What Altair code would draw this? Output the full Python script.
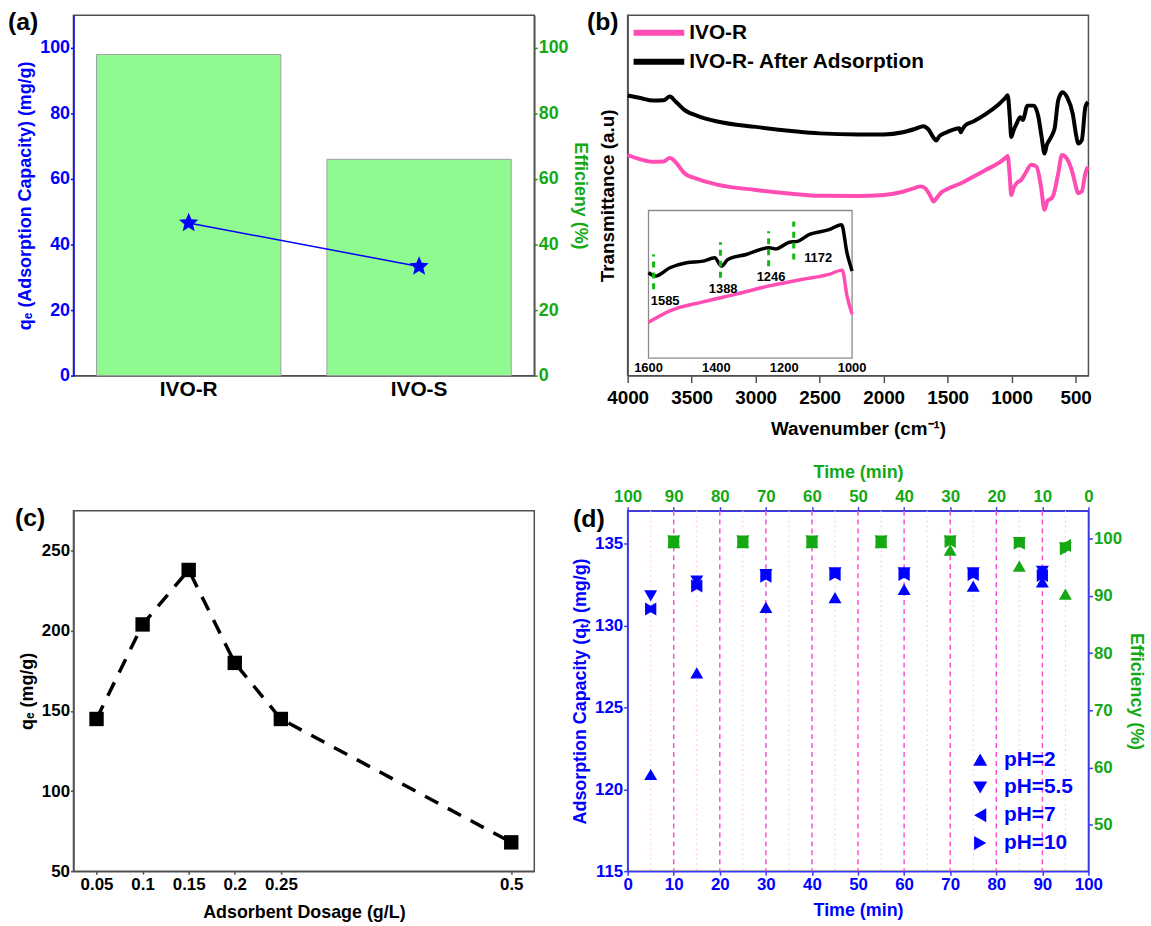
import altair as alt
import pandas as pd

FONT = "Liberation Sans"
BLUE = "#0000FF"
DBLUE = "#3838FF"
GREEN = "#14A814"
PINK = "#FF4DB3"
FRAME = "#505050"
STAR = ("M0,-1L0.2645,-0.3641L0.9511,-0.309L0.428,0.1391L0.5878,0.809L0,0.45"
        "L-0.5878,0.809L-0.428,0.1391L-0.9511,-0.309L-0.2645,-0.3641Z")

# ---------------- (a) ----------------
samples = ["IVO-R", "IVO-S"]
eff_a = [98.0, 66.0]
qe_a = [46.6, 33.3]

# ---------------- (b) ----------------
series_b = ["IVO-R", "IVO-R- After Adsorption"]
wn_after = [4000, 3900, 3800, 3720, 3670, 3630, 3560, 3450, 3300, 3000, 2700, 2500, 2200, 2000,
            1850, 1750, 1690, 1650, 1610, 1590, 1565, 1520, 1450, 1410, 1398, 1385, 1360, 1300,
            1200, 1100, 1045, 1031, 1015, 1003, 985, 961, 933, 913, 876, 828, 791, 765, 743, 725,
            706, 680, 664, 636, 602, 565, 523, 495, 481, 452, 424, 404]
t_after = [77.7, 77.0, 76.3, 76.4, 77.4, 76.2, 73.8, 72.0, 70.5, 69.0, 67.8, 67.2, 66.9, 66.9,
           67.5, 68.5, 69.2, 68.3, 66.0, 65.2, 66.4, 67.3, 68.3, 68.6, 67.5, 68.3, 69.5, 70.5,
           72.6, 75.3, 77.2, 77.8, 72.0, 66.2, 68.0, 69.9, 71.7, 70.9, 74.9, 74.9, 71.8, 66.0, 61.6, 64.0,
           65.3, 67.0, 68.6, 76.4, 78.6, 77.1, 72.7, 66.5, 64.4, 65.3, 74.5, 75.9]
wn_r = [4000, 3900, 3800, 3720, 3670, 3630, 3560, 3450, 3300, 3000, 2700, 2500, 2200, 2000,
        1850, 1760, 1710, 1670, 1630, 1610, 1585, 1550, 1500, 1400, 1300, 1200, 1100, 1045, 1031,
        1015, 1003, 985, 961, 925, 891, 848, 806, 771, 743, 720, 706, 678, 636, 607, 565, 523,
        495, 481, 452, 424, 404]
t_r = [61.2, 60.0, 59.3, 59.4, 60.4, 59.4, 56.3, 54.5, 53.0, 51.5, 50.4, 49.9, 49.8, 50.1,
       51.0, 52.0, 52.5, 51.8, 49.5, 48.3, 49.3, 50.8, 51.8, 53.3, 55.2, 57.1, 59.0, 60.5, 60.9,
       55.5, 50.1, 52.0, 53.4, 54.3, 56.2, 58.5, 58.0, 52.5, 46.0, 48.5, 48.8, 49.7, 56.1, 61.2, 60.0, 56.1,
       52.0, 50.6, 51.1, 56.1, 57.9]
inset_wn_after = [1600, 1580, 1537, 1488, 1439, 1405, 1385, 1366, 1312, 1244, 1225, 1185, 1161,
                  1127, 1068, 1031, 1015, 1000]
inset_t_after = [57.9, 55.6, 61.2, 64.6, 65.7, 68.0, 62.3, 66.8, 70.2, 74.7, 74.0, 78.5, 79.1,
                 83.6, 87.0, 90.4, 71.3, 59.0]
inset_wn_r = [1600, 1537, 1439, 1342, 1244, 1146, 1068, 1029, 1015, 1000]
inset_t_r = [24.2, 32.0, 38.1, 43.3, 48.9, 53.4, 56.7, 59.6, 42.1, 29.8]
inset_ticks = [1600, 1400, 1200, 1000]
peak_wn = [1585, 1388, 1246, 1172]
peak_lo = [46.6, 54.5, 62.3, 66.8]
peak_hi = [70.2, 78.5, 85.9, 92.6]
peak_text = ["1585", "1388", "1246", "1172"]
peak_text_wn = [1551, 1380, 1239, 1100]
peak_text_t = [38.8, 46.6, 54.9, 68.0]
# inset box spans 1600..1000 cm-1 and 0..100 (a.u.); widened domains place it inside panel (b)
inset_x_domain = [303.4, 1661.5]
inset_y_domain = [-11.9, 232.4]

# ---------------- (c) ----------------
dose = [0.05, 0.1, 0.15, 0.2, 0.25, 0.5]
qe_c = [145, 204, 238, 180, 145, 68]

# ---------------- (d) ----------------
times = [5, 15, 30, 45, 60, 75, 90]
ph_labels = ["pH=2", "pH=5.5", "pH=7", "pH=10"]
ph_shapes = ["triangle-up", "triangle-down", "triangle-left", "triangle-right"]
qt_ph2 = [120.9, 127.1, 131.1, 131.7, 132.2, 132.4, 132.65]
qt_ph55 = [131.8, 132.7, 133.1, 133.2, 133.2, 133.2, 133.3]
qt_ph7 = [131.0, 132.4, 133.0, 133.1, 133.1, 133.1, 133.05]
qt_ph10 = [131.0, 132.4, 133.0, 133.1, 133.1, 133.1, 133.05]
eff_times = [90, 75, 60, 45, 30, 15, 5]
eff_ph2 = [99.3, 99.3, 99.3, 99.3, 98.0, 95.2, 90.3]
eff_ph55 = [99.6, 99.6, 99.6, 99.6, 99.6, 99.3, 98.4]
eff_ph7 = [99.5, 99.5, 99.5, 99.5, 99.5, 99.2, 98.8]
eff_ph10 = [99.5, 99.5, 99.5, 99.5, 99.5, 99.2, 98.2]
major_grid = [10, 20, 30, 40, 50, 60, 70, 80, 90]
minor_grid = [5, 15, 25, 35, 45, 55, 65, 75, 85, 95]

W, H = 464, 363


def ptitle(txt, dx, offset=-32):
    return alt.TitleParams(text=txt, anchor="start", dx=dx, offset=offset, fontSize=25, font=FONT,
                           fontWeight="bold", color="black", baseline="middle", frame="group")


def legend_entry(symbol_chart, label, color, lx, ly, size=21):
    txt = alt.Chart(pd.DataFrame({"lab": [label]})).mark_text(
        align="left", baseline="middle", fontSize=size, fontWeight="bold", font=FONT, color=color
    ).encode(text="lab:N", x=alt.value(lx), y=alt.value(ly))
    return [symbol_chart, txt]


# ================= panel (a) =================
df_a = pd.DataFrame({"sample": samples, "eff": eff_a, "qe": qe_a})
xa = alt.X("sample:N", sort=samples, scale=alt.Scale(paddingInner=0.2, paddingOuter=0.1),
           axis=alt.Axis(title=None, labelFontSize=21, labelColor="black", ticks=False,
                         labelPadding=3, domainColor=FRAME, labelAngle=0))
bars = alt.Chart(df_a).mark_bar(color="#8FFA8F", stroke="#a0a0a0", strokeWidth=1).encode(
    x=xa,
    y=alt.Y("eff:Q", scale=alt.Scale(domain=[0, 110], nice=False),
            axis=alt.Axis(orient="right", values=[0, 20, 40, 60, 80, 100], title="Efficieny (%)",
                          labelColor=GREEN, titleColor=GREEN, tickColor=GREEN, domainColor=FRAME,
                          labelFontSize=18, titleFontSize=18, tickSize=3, labelPadding=1, titlePadding=2)))
yq = alt.Y("qe:Q", scale=alt.Scale(domain=[0, 110], nice=False),
           axis=alt.Axis(orient="left", values=[0, 20, 40, 60, 80, 100],
                         title="qₑ (Adsorption Capacity) (mg/g)",
                         labelColor=BLUE, titleColor=BLUE, tickColor=BLUE, domainColor=BLUE,
                         labelFontSize=18, titleFontSize=18, tickSize=3, labelPadding=1, titlePadding=5))
yq_noaxis = alt.Y("qe:Q", scale=alt.Scale(domain=[0, 110], nice=False), axis=None)
qline = alt.Chart(df_a).mark_line(color=BLUE, strokeWidth=1.5).encode(x=xa, y=yq)
stars = alt.Chart(df_a).mark_point(shape=STAR, filled=True, size=420, color=BLUE, opacity=1).encode(
    x=xa, y=yq_noaxis)
panel_a = alt.layer(bars, qline, stars).resolve_scale(y="independent").properties(
    width=W, height=H, title=ptitle("(a)", -66))

# ================= panel (b) =================
df_b = pd.concat([
    pd.DataFrame({"wn": wn_r, "T": t_r, "series": series_b[0]}),
    pd.DataFrame({"wn": wn_after, "T": t_after, "series": series_b[1]}),
])
xb = alt.X("wn:Q", scale=alt.Scale(domain=[400, 4000], reverse=True, nice=False),
           axis=alt.Axis(values=[4000, 3500, 3000, 2500, 2000, 1500, 1000, 500], format="d",
                         title="Wavenumber (cm⁻¹)", labelFontSize=19, titleFontSize=19,
                         labelColor="black", titleColor="black", tickSize=7, labelPadding=6,
                         titlePadding=12, domainColor=FRAME, tickColor=FRAME))
yb = alt.Y("T:Q", scale=alt.Scale(domain=[0, 100], nice=False),
           axis=alt.Axis(values=[], title="Transmittance (a.u)", titleFontSize=19,
                         titleColor="black", titlePadding=10, domainColor=FRAME))
main_lines = alt.Chart(df_b).mark_line(strokeWidth=4, interpolate="monotone").encode(
    x=xb, y=yb,
    color=alt.Color("series:N", scale=alt.Scale(domain=series_b, range=[PINK, "black"]), legend=None))

xi = alt.X("wn:Q", scale=alt.Scale(domain=inset_x_domain, reverse=True, nice=False, zero=False), axis=None)
yi = alt.Y("T:Q", scale=alt.Scale(domain=inset_y_domain, nice=False, zero=False), axis=None)
df_box = pd.DataFrame({"wn": [1600], "wn2": [1000], "T": [0], "T2": [100]})
box = alt.Chart(df_box).mark_rect(fillOpacity=0, stroke="#8a8a8a", strokeWidth=1.3).encode(
    x=xi, x2="wn2:Q", y=yi, y2="T2:Q")
inset_r = alt.Chart(pd.DataFrame({"wn": inset_wn_r, "T": inset_t_r})).mark_line(
    color=PINK, strokeWidth=3.5, interpolate="monotone").encode(x=xi, y=yi)
inset_after = alt.Chart(pd.DataFrame({"wn": inset_wn_after, "T": inset_t_after})).mark_line(
    color="black", strokeWidth=3.5, interpolate="monotone").encode(x=xi, y=yi)
df_peak = pd.DataFrame({"wn": peak_wn, "T": peak_lo, "T2": peak_hi})
peak_rules = alt.Chart(df_peak).mark_rule(color="#12B812", strokeWidth=3, strokeDash=[6, 5]).encode(
    x=xi, y=yi, y2="T2:Q")
df_ptxt = pd.DataFrame({"wn": peak_text_wn, "T": peak_text_t, "txt": peak_text})
peak_txt = alt.Chart(df_ptxt).mark_text(fontSize=13, fontWeight="bold", font=FONT, color="black").encode(
    x=xi, y=yi, text="txt:N")
df_itick = pd.DataFrame({"wn": inset_ticks, "T": [0] * len(inset_ticks), "txt": [str(v) for v in inset_ticks]})
inset_tick_txt = alt.Chart(df_itick).mark_text(fontSize=13, fontWeight="bold", font=FONT, color="black",
                                                baseline="top", dy=4).encode(x=xi, y=yi, text="txt:N")

leg_b = []
for i, (name, col) in enumerate(zip(series_b, [PINK, "black"])):
    yy = 17.7 + i * 29.3
    sample = alt.Chart(pd.DataFrame({"s": [name]})).mark_rule(color=col, strokeWidth=6).encode(
        x=alt.value(6), x2=alt.value(57), y=alt.value(yy))
    leg_b += legend_entry(sample, name, "black", 62, yy)

panel_b = alt.layer(main_lines, box, inset_r, inset_after, peak_rules, peak_txt, inset_tick_txt, *leg_b).resolve_scale(
    x="independent", y="independent").properties(width=W, height=H, title=ptitle("(b)", -41))

# ================= panel (c) =================
df_c = pd.DataFrame({"dose": dose, "qe": qe_c})
xc = alt.X("dose:Q", scale=alt.Scale(domain=[0.025, 0.525], nice=False),
           axis=alt.Axis(values=dose, labelExpr="toString(datum.value)", title="Adsorbent Dosage (g/L)",
                         labelFontSize=17, titleFontSize=18, labelColor="black", titleColor="black",
                         tickSize=3, labelPadding=2, titlePadding=12, domainColor=FRAME, tickColor=FRAME))
yc = alt.Y("qe:Q", scale=alt.Scale(domain=[50, 275], nice=False),
           axis=alt.Axis(values=[50, 100, 150, 200, 250], title="qₑ (mg/g)", labelFontSize=17,
                         titleFontSize=18, labelColor="black", titleColor="black", tickSize=3,
                         labelPadding=1, titlePadding=5, domainColor=FRAME, tickColor=FRAME))
line_c = alt.Chart(df_c).mark_line(color="black", strokeWidth=3.5, strokeDash=[15, 11]).encode(x=xc, y=yc)
sq_c = alt.Chart(df_c).mark_square(size=210, color="black", opacity=1).encode(x=xc, y=yc)
panel_c = alt.layer(line_c, sq_c).properties(width=W, height=H, title=ptitle("(c)", -59))

# ================= panel (d) =================
qt_all = [qt_ph2, qt_ph55, qt_ph7, qt_ph10]
eff_all = [eff_ph2, eff_ph55, eff_ph7, eff_ph10]
df_q = pd.concat([pd.DataFrame({"t": times, "q": v, "pH": lab}) for v, lab in zip(qt_all, ph_labels)])
df_e = pd.concat([pd.DataFrame({"t": eff_times, "e": v, "pH": lab}) for v, lab in zip(eff_all, ph_labels)])

xd = alt.X("t:Q", scale=alt.Scale(domain=[0, 100], nice=False),
           axis=alt.Axis(values=list(range(0, 101, 10)), title="Time (min)", labelFontSize=17,
                         titleFontSize=18, labelColor=BLUE, titleColor=BLUE, tickColor=DBLUE,
                         domainColor=DBLUE, tickSize=4, labelPadding=1, titlePadding=10))
xd_noaxis = alt.X("t:Q", scale=alt.Scale(domain=[0, 100], nice=False), axis=None)
yd = alt.Y("q:Q", scale=alt.Scale(domain=[115, 137], nice=False),
           axis=alt.Axis(values=[115, 120, 125, 130, 135], title="Adsorption Capacity (qₜ) (mg/g)",
                         labelFontSize=17, titleFontSize=18, labelColor=BLUE, titleColor=BLUE,
                         tickColor=DBLUE, domainColor=DBLUE, tickSize=4, labelPadding=1, titlePadding=5))
shape_d = alt.Shape("pH:N", scale=alt.Scale(domain=ph_labels, range=ph_shapes), legend=None)
major_r = alt.Chart(pd.DataFrame({"t": major_grid})).mark_rule(
    color="#FF4FD0", strokeDash=[5, 4], strokeWidth=1.5).encode(x=xd_noaxis)
minor_r = alt.Chart(pd.DataFrame({"t": minor_grid})).mark_rule(
    color="#FFC6EE", strokeDash=[2, 3], strokeWidth=1).encode(x=xd_noaxis)
blue_pts = alt.Chart(df_q).mark_point(filled=True, size=170, color=BLUE, opacity=1).encode(
    x=xd, y=yd, shape=shape_d)
xtop = alt.X("t:Q", scale=alt.Scale(domain=[0, 100], reverse=True, nice=False),
             axis=alt.Axis(orient="top", values=list(range(0, 101, 10)), title="Time (min)",
                           labelFontSize=17, titleFontSize=18, labelColor=GREEN, titleColor=GREEN,
                           tickColor=DBLUE, domainColor=DBLUE, tickSize=4, labelPadding=1, titlePadding=6))
yeff = alt.Y("e:Q", scale=alt.Scale(domain=[41.9, 104.9], nice=False, zero=False),
             axis=alt.Axis(orient="right", values=[50, 60, 70, 80, 90, 100], title="Efficiency (%)",
                           labelFontSize=17, titleFontSize=18, labelColor=GREEN, titleColor=GREEN,
                           tickColor=DBLUE, domainColor=DBLUE, tickSize=4, labelPadding=1, titlePadding=5))
green_pts = alt.Chart(df_e).mark_point(filled=True, size=170, color=GREEN, opacity=1).encode(
    x=xtop, y=yeff, shape=shape_d)

leg_d = []
for i, (lab, shp) in enumerate(zip(ph_labels, ph_shapes)):
    yy = 250.7 + i * 28
    sym = alt.Chart(pd.DataFrame({"s": [lab]})).mark_point(
        shape=shp, filled=True, size=200, color=BLUE, opacity=1).encode(x=alt.value(355), y=alt.value(yy))
    leg_d += legend_entry(sym, lab, BLUE, 379, yy)

panel_d = alt.layer(minor_r, major_r, blue_pts, green_pts, *leg_d).resolve_scale(
    x="independent", y="independent").properties(width=W, height=H, title=ptitle("(d)", -55, offset=-80))

chart = alt.concat(panel_a, panel_b, panel_c, panel_d, columns=2,
                   spacing={"row": 136, "column": 94}, bounds="flush").properties(
    padding={"left": 7, "top": 6, "right": 5, "bottom": 5}
).configure(font=FONT).configure_axis(
    labelFont=FONT, titleFont=FONT, labelFontWeight="bold", titleFontWeight="bold", grid=False,
    labelFlush=False, labelOverlap=False, domainWidth=1.5, tickWidth=1.5
).configure_view(stroke=FRAME, strokeWidth=1.5)

chart.save("out.html", embed_options={"renderer": "svg", "actions": False})
